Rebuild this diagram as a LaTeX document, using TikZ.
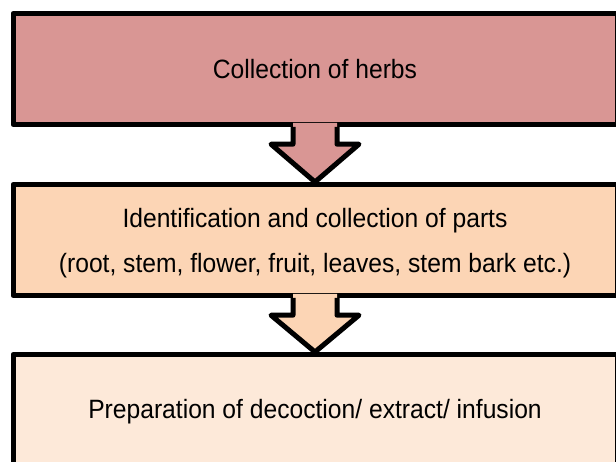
\documentclass[tikz,border=0pt]{standalone}
\usepackage{fontspec}
\setmainfont{Liberation Sans}[FakeStretch=0.93]
\definecolor{boxred}{HTML}{D99694}
\definecolor{boxpeach}{HTML}{FCD5B5}
\definecolor{boxlight}{HTML}{FDE9D9}
\newcommand\blockarr[3]{%
  \fill[#3] ([shift={(-22pt,4pt)}]#1.south) -- ([shift={(-22pt,-17.2pt)}]#1.south)
    -- ([shift={(-44pt,-17.2pt)}]#1.south) -- (#2.north)
    -- ([shift={(44pt,-17.2pt)}]#1.south) -- ([shift={(22pt,-17.2pt)}]#1.south)
    -- ([shift={(22pt,4pt)}]#1.south) -- cycle;
  \draw[outline] ([shift={(-22pt,0pt)}]#1.south) -- ([shift={(-22pt,-17.2pt)}]#1.south)
    -- ([shift={(-44pt,-17.2pt)}]#1.south) -- (#2.north)
    -- ([shift={(44pt,-17.2pt)}]#1.south) -- ([shift={(22pt,-17.2pt)}]#1.south)
    -- ([shift={(22pt,0pt)}]#1.south);%
}
\begin{document}
\begin{tikzpicture}[x=1pt,y=-1pt,
  outline/.style={draw=black, line width=5pt, line join=round},
  box/.style={outline, minimum width=604pt, inner sep=0pt, align=center,
    font=\fontsize{26.5}{45}\selectfont, text height=19pt, text depth=0pt}]
\useasboundingbox (0,0) rectangle (616,462);
\clip (0,0) rectangle (616,462);
\node[box, fill=boxred, minimum height=111pt] (b1) at (315,69) {Collection of herbs};
\node[box, fill=boxpeach, minimum height=111pt, text height=65pt] (b2) at (315,240)
  {Identification and collection of parts\\(root, stem, flower, fruit, leaves, stem bark etc.)};
\node[box, fill=boxlight, minimum height=110.5pt, text height=17pt] (b3) at (315,409.75)
  {Preparation of decoction/ extract/ infusion};
\blockarr{b1}{b2}{boxred}
\blockarr{b2}{b3}{boxpeach}
\end{tikzpicture}
\end{document}
